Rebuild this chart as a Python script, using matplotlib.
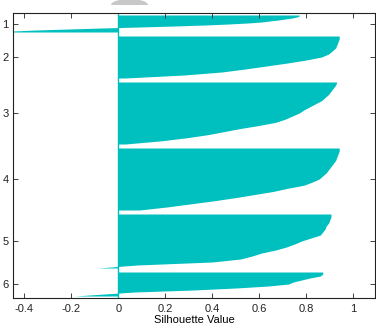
import matplotlib
matplotlib.use('Agg')
import matplotlib.pyplot as plt
from matplotlib.patches import Ellipse, Rectangle
import numpy as np

matplotlib.rcParams['font.family'] = 'Liberation Sans'

# cluster sizes (rows) and sorted silhouette values read down each cluster
cluster_labels = ['1', '2', '3', '4', '5', '6']
cluster_sizes = [17, 42, 62, 62, 54, 24]
sil1 = [0.77, 0.77, 0.76, 0.74, 0.71, 0.68, 0.645, 0.61, 0.55, 0.47, 0.37, 0.24,
        0.09, -0.07, -0.21, -0.35, -0.45, -0.46]
sil2 = [0.94, 0.94, 0.935, 0.93, 0.925, 0.91, 0.895, 0.865, 0.80, 0.72, 0.63,
        0.54, 0.44, 0.28, 0.03]
sil3 = [0.93, 0.925, 0.915, 0.905, 0.895, 0.88, 0.865, 0.84, 0.815, 0.79, 0.77,
        0.74, 0.71, 0.67, 0.60, 0.52, 0.45, 0.38, 0.29, 0.18, 0.03]
sil4 = [0.94, 0.94, 0.935, 0.93, 0.925, 0.915, 0.905, 0.895, 0.885, 0.87, 0.855,
        0.825, 0.79, 0.72, 0.66, 0.58, 0.50, 0.41, 0.31, 0.21, 0.09]
sil5 = [0.905, 0.905, 0.90, 0.895, 0.885, 0.88, 0.87, 0.86, 0.82, 0.78, 0.75,
        0.715, 0.67, 0.61, 0.57, 0.52, 0.40, 0.08, -0.085]
sil6 = [0.87, 0.87, 0.86, 0.815, 0.78, 0.745, 0.725, 0.64, 0.50, 0.32, 0.07,
        -0.06, -0.185]
xticks = [-0.4, -0.2, 0, 0.2, 0.4, 0.6, 0.8, 1]
xtick_labels = ['-0.4', '-0.2', '0', '0.2', '0.4', '0.6', '0.8', '1']

bar_color = (0, 0.75, 0.75)
gap = 4
top = 2

fig = plt.figure(figsize=(3.76, 3.27), dpi=100)
ax = fig.add_axes([13/376, 29/327, 362.5/376, 285/327])

centers = []
start = top
for size, vals in zip(cluster_sizes, [sil1, sil2, sil3, sil4, sil5, sil6]):
    y = np.linspace(start, start + size, len(vals))
    ax.fill_betweenx(y, 0, vals, color=bar_color, lw=0)
    centers.append(start + size / 2)
    start += size + gap

ax.axvline(0, color=bar_color, lw=1)

ax.set_xlim(-0.448, 1.0945)
ax.set_ylim(285, 0)
ax.set_xticks(xticks)
ax.set_xticklabels(xtick_labels)
ax.set_yticks(centers)
ax.set_yticklabels(cluster_labels)
ax.tick_params(direction='in', length=3.5, width=0.6, labelsize=8,
               top=True, right=True, colors='#222222')
ax.tick_params(axis='x', pad=4)
ax.tick_params(axis='y', pad=3)
for s in ax.spines.values():
    s.set_linewidth(0.8)
    s.set_color('#222222')
ax.set_xlabel('Silhouette Value', fontsize=8, labelpad=1)

# grey smudge above the frame
clip = Rectangle((0, 1 - 4.5/327), 1, 1, transform=fig.transFigure, visible=False)
fig.add_artist(clip)
blob = Ellipse((129.5/376, 1 - 5/327), 37/376, 12/327, transform=fig.transFigure,
               color='#c8c8c8', lw=0)
fig.add_artist(blob)
blob.set_clip_path(clip)

fig.savefig('out.png', dpi=100)
